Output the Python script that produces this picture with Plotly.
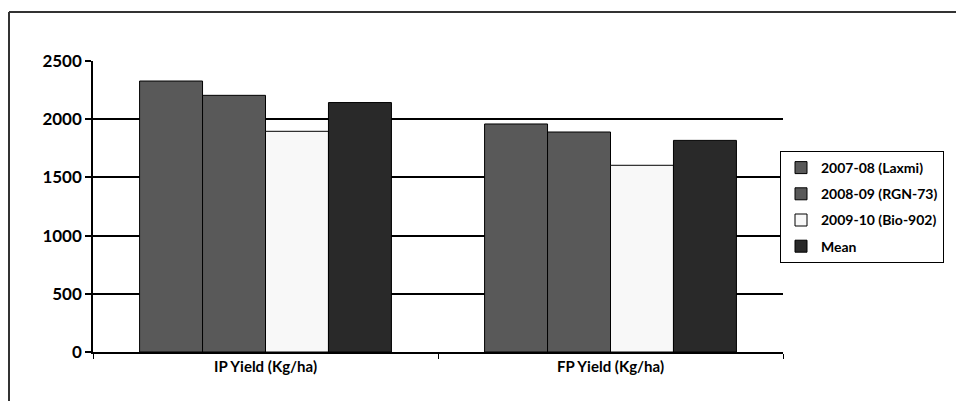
import plotly.graph_objects as go

categories = ["IP Yield (Kg/ha)", "FP Yield (Kg/ha)"]
series_names = ["2007-08 (Laxmi)", "2008-09 (RGN-73)", "2009-10 (Bio-902)", "Mean"]
laxmi = [2328, 1959]
rgn73 = [2205, 1890]
bio902 = [1896, 1604]
mean_vals = [2143, 1818]
y_ticks = [0, 500, 1000, 1500, 2000, 2500]

colors = ["#595959", "#595959", "#f8f8f8", "#292929"]
all_values = [laxmi, rgn73, bio902, mean_vals]

W, H = 956, 401
# plot area in page pixels: x 93..783, y 61..352
L, T = 93, 61
R = W - 783
B = H - 352
pw, ph = W - L - R, H - T - B

fig = go.Figure()
for i, (name, vals) in enumerate(zip(series_names, all_values)):
    fig.add_trace(go.Bar(
        x=categories, y=vals, name=name, legendgroup=f"g{i}",
        marker=dict(color=colors[i], line=dict(color="#000000", width=1)),
    ))

def px_x(x):  # page x -> paper
    return (x - L) / pw

def px_y(y):  # page y -> paper
    return (H - B - y) / ph

fig.update_layout(
    width=W, height=H,
    margin=dict(l=L, r=R, t=T, b=B),
    paper_bgcolor="white", plot_bgcolor="white",
    barmode="group", bargap=0.27, bargroupgap=0,
    font=dict(family="Lato, 'Open Sans', sans-serif", color="#000000"),
    showlegend=True,
    legend=dict(
        x=px_x(944), y=px_y(151), xanchor="right", yanchor="top",
        bordercolor="#000000", borderwidth=1, bgcolor="white",
        font=dict(size=14, family="Lato", weight="bold"),
        tracegroupgap=5, traceorder="grouped",
        itemwidth=30,
    ),
    xaxis=dict(
        range=[-0.5, 1.5],
        showline=True, linecolor="#000000", linewidth=2,
        ticks="outside", tickson="boundaries", ticklen=5, tickcolor="#000000", tickwidth=1,
        tickfont=dict(size=15, family="Lato", weight="bold"),
        showgrid=False,
    ),
    yaxis=dict(
        range=[0, 2500], tickvals=y_ticks,
        showline=True, linecolor="#000000", linewidth=1.5,
        ticks="outside", ticklen=6, tickcolor="#000000", tickwidth=1.5,
        tickfont=dict(size=17, family="Lato", weight="bold"),
        showgrid=True, gridcolor="#000000", gridwidth=1.5,
        zeroline=False,
    ),
    shapes=[
        dict(type="line", xref="paper", yref="paper",
             x0=px_x(9), x1=px_x(960), y0=px_y(12), y1=px_y(12),
             line=dict(color="#333333", width=2)),
        dict(type="line", xref="paper", yref="paper",
             x0=px_x(9), x1=px_x(9), y0=px_y(12), y1=px_y(405),
             line=dict(color="#333333", width=2)),
    ],
)

fig.write_html(
    "out.html",
    config={"displayModeBar": False},
    post_script="document.body.style.margin='0';document.body.style.overflow='hidden';",
)
